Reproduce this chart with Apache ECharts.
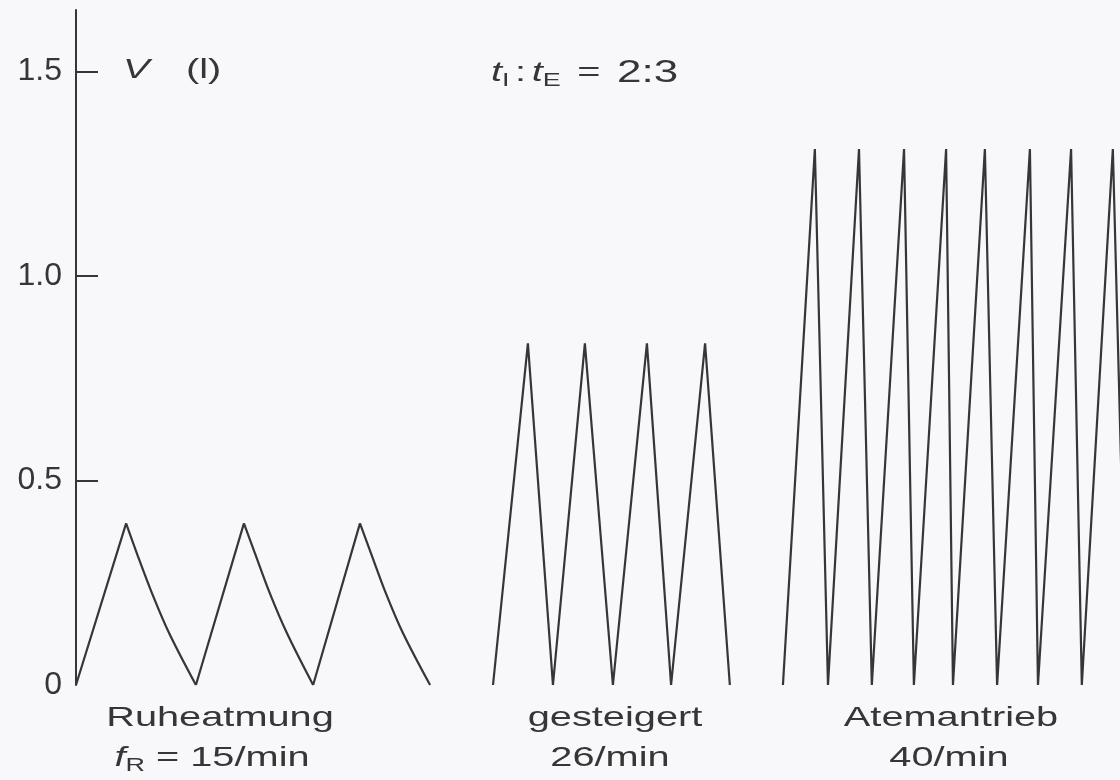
<!DOCTYPE html>
<html>
<head>
<meta charset="UTF-8">
<title>Atemzugvolumen</title>
<script src="https://cdn.jsdelivr.net/npm/echarts@6/dist/echarts.min.js"></script>
<style>
  html, body { margin: 0; padding: 0; background: #f8f8fa; }
  #main { width: 1120px; height: 780px; }
</style>
</head>
<body>
<div id="main"></div>
<script>
// Zeit t (willkuerliche Einheit) und Volumen V (l)
var ruheT = [0, 1.68, 2.04, 2.55, 3.12, 4.02, 5.63, 6.00, 6.50, 7.07, 7.95, 9.52, 9.89, 10.39, 10.96, 11.87];
var ruheV = [0, 0.395, 0.322, 0.224, 0.127, 0, 0.395, 0.322, 0.224, 0.127, 0, 0.395, 0.322, 0.224, 0.127, 0];

var gesteigertT = [13.98, 15.15, 15.99, 17.06, 18.00, 19.14, 19.95, 21.09, 21.92];
var gesteigertV = [0, 0.835, 0, 0.835, 0, 0.835, 0, 0.835, 0];

var antriebT = [23.70, 24.77, 25.21, 26.25, 26.68, 27.76, 28.09, 29.17, 29.40, 30.47, 30.88, 31.98, 32.25, 33.36, 33.72, 34.76, 35.23];
var antriebV = [0, 1.31, 0, 1.31, 0, 1.31, 0, 1.31, 0, 1.31, 0, 1.31, 0, 1.31, 0, 1.31, 0];

var yTickValues = [0.5, 1.0, 1.5];
var yLabelValues = [0, 0.5, 1.0, 1.5];

function zip(t, v) {
    var res = [];
    for (var i = 0; i < t.length; i++) res.push([t[i], v[i]]);
    return res;
}

// Ruheatmung: Einatmung gerade, Ausatmung als gekruemmte Kurve -> zwei Teilreihen mit Luecken
function splitBreaths(t, v) {
    var rise = [], fall = [];
    var peak = Math.max.apply(null, v);
    for (var i = 0; i < t.length; i++) {
        if (v[i] === peak) {
            rise.push([t[i - 1], v[i - 1]], [t[i], v[i]], ['-', '-']);
            var j = i;
            while (j < t.length) {
                fall.push([t[j], v[j]]);
                if (j > i && v[j] === 0) break;
                j++;
            }
            fall.push(['-', '-']);
        }
    }
    return { rise: rise, fall: fall };
}
var ruhe = splitBreaths(ruheT, ruheV);

var ink = '#363636';
var fam = '"Liberation Sans", Arial, sans-serif';
var stretch = 1.42;

function lineSeries(name, data, smooth) {
    return {
        name: name, type: 'line', data: data, symbol: 'none', smooth: smooth || false,
        connectNulls: false, lineStyle: { color: ink, width: 2.2 }, clip: true
    };
}

function label(x, y, text, align, rich) {
    return {
        type: 'text', x: x, y: y, scaleX: stretch,
        style: {
            text: text, fontSize: 28, fontFamily: fam, fill: ink,
            align: align || 'center', verticalAlign: 'middle', rich: rich
        }
    };
}

var subRich = {
    it: { fontStyle: 'italic', fontSize: 28, fontFamily: fam, color: ink, lineHeight: 34 },
    sub: { fontSize: 19, fontFamily: fam, color: ink, lineHeight: 20, verticalAlign: 'bottom' },
    s: { fontSize: 14, fontFamily: fam, color: ink, lineHeight: 34 },
    n: { fontSize: 28, fontFamily: fam, color: ink, lineHeight: 34 },
    w: { fontSize: 31, fontFamily: fam, color: ink, lineHeight: 34 }
};

var myChart = echarts.init(document.getElementById('main'));

var option = {
    backgroundColor: '#f8f8fa',
    animation: false,
    grid: { left: 76, right: 0, top: 10, bottom: 95 },
    xAxis: { type: 'value', min: 0, max: 35, show: false },
    yAxis: {
        type: 'value', min: 0, max: 1.65,
        axisLine: { show: true, lineStyle: { color: ink, width: 2 } },
        axisTick: { show: true, inside: true, length: 22, customValues: yTickValues, lineStyle: { color: ink, width: 2 } },
        axisLabel: {
            customValues: yLabelValues, margin: 14, fontSize: 32, fontFamily: fam, color: ink,
            formatter: function (v) { return v === 0 ? '0' : v.toFixed(1); }
        },
        splitLine: { show: false }
    },
    series: [
        lineSeries('Ruheatmung', ruhe.rise),
        lineSeries('Ruheatmung', ruhe.fall, 0.35),
        lineSeries('gesteigert', zip(gesteigertT, gesteigertV)),
        lineSeries('Atemantrieb', zip(antriebT, antriebV))
    ],
    graphic: [
        label(123, 70, '{it|V}', 'left', subRich),
        label(186, 70, '(l)', 'left'),
        label(491, 73, '{it|t}{sub|I}{s| }{n|:}{s| }{it|t}{sub|E}{s| }{n| = }{s| }{w|2:3}', 'left', subRich),
        label(220, 718, 'Ruheatmung'),
        label(212, 758, '{it|f}{sub|R}{n| = 15/min}', 'center', subRich),
        label(615, 718, 'gesteigert'),
        label(610, 758, '26/min'),
        label(951, 718, 'Atemantrieb'),
        label(949, 758, '40/min')
    ]
};

myChart.setOption(option, true);
</script>
</body>
</html>
